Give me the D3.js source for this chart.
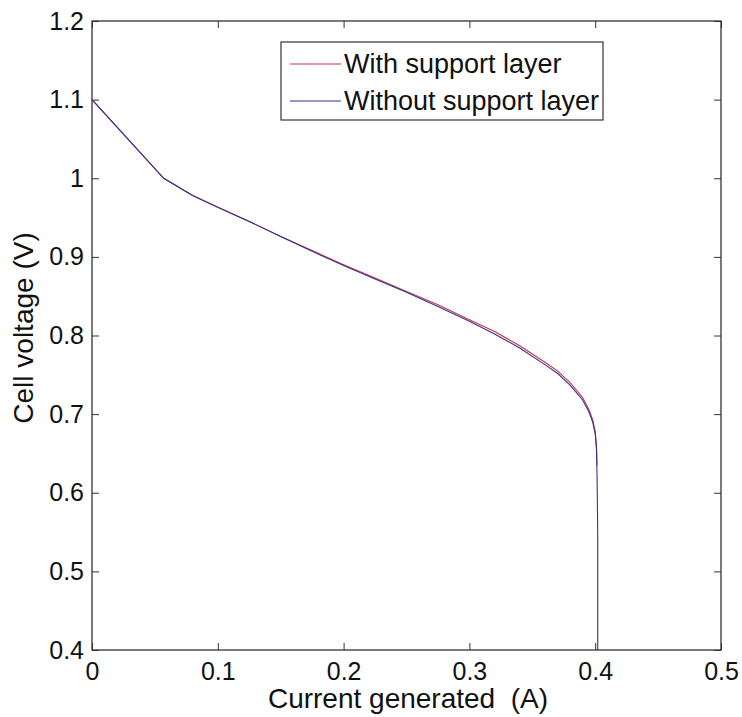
<!DOCTYPE html>
<html>
<head>
<meta charset="utf-8">
<script src="https://cdn.jsdelivr.net/npm/d3@7"></script>
<style>
  html, body { margin: 0; padding: 0; background: #fff; }
  svg { display: block; }
  text { font-family: "Liberation Sans", Arial, sans-serif; fill: #111; }
</style>
</head>
<body>
<script>
// Polarization curve: current (A) vs cell voltage (V)
const currentWithout = [0, 0.057, 0.08, 0.1, 0.125, 0.15, 0.175, 0.2, 0.225, 0.25, 0.275, 0.3, 0.32, 0.34, 0.36, 0.37, 0.38, 0.39, 0.395, 0.398, 0.4, 0.401, 0.4015, 0.402, 0.402];
const voltageWithout = [1.1, 1.0, 0.978, 0.963, 0.945, 0.926, 0.907, 0.889, 0.872, 0.855, 0.837, 0.818, 0.802, 0.784, 0.763, 0.752, 0.737, 0.718, 0.703, 0.69, 0.675, 0.655, 0.62, 0.55, 0.4];

const currentWith = [0, 0.057, 0.08, 0.1, 0.125, 0.15, 0.175, 0.2, 0.225, 0.25, 0.275, 0.3, 0.32, 0.34, 0.36, 0.37, 0.38, 0.39, 0.395, 0.398, 0.4, 0.401, 0.4015];
const voltageWith = [1.1, 1.0, 0.978, 0.963, 0.945, 0.926, 0.908, 0.890, 0.873, 0.856, 0.839, 0.820, 0.805, 0.787, 0.766, 0.755, 0.740, 0.721, 0.706, 0.693, 0.678, 0.66, 0.635];

const xTicks = [0, 0.1, 0.2, 0.3, 0.4, 0.5];
const yTicks = [0.4, 0.5, 0.6, 0.7, 0.8, 0.9, 1.0, 1.1, 1.2];
const seriesNames = ["With support layer", "Without support layer"];
const seriesColors = ["#cc3344", "#33338f"];

const W = 742, H = 717;
const plot = { left: 92, top: 21, right: 721, bottom: 650 };

const x = d3.scaleLinear().domain([0, 0.5]).range([plot.left, plot.right]);
const y = d3.scaleLinear().domain([0.4, 1.2]).range([plot.bottom, plot.top]);

const svg = d3.select("body").append("svg").attr("width", W).attr("height", H);

const fmt = d => String(+d.toFixed(1));
const tickLen = 7;
const axisColor = "#333";
const fontSize = 25;

// axes: ticks point inward and are mirrored on the top and right edges
const bottomAxis = d3.axisBottom(x).tickValues(xTicks).tickSize(-tickLen).tickPadding(12).tickFormat(fmt);
const leftAxis = d3.axisLeft(y).tickValues(yTicks).tickSize(-tickLen).tickPadding(8).tickFormat(fmt);
const topAxis = d3.axisTop(x).tickValues(xTicks).tickSize(-tickLen).tickFormat("");
const rightAxis = d3.axisRight(y).tickValues(yTicks).tickSize(-tickLen).tickFormat("");

function style(g) {
  g.select(".domain").remove();
  g.selectAll(".tick line").attr("stroke", axisColor).attr("stroke-width", 1);
  g.selectAll(".tick text").attr("font-size", fontSize).attr("fill", "#111")
    .style("font-family", '"Liberation Sans", Arial, sans-serif');
}

svg.append("g").attr("transform", `translate(0,${plot.bottom})`).call(bottomAxis).call(style);
svg.append("g").attr("transform", `translate(${plot.left},0)`).call(leftAxis).call(style);
svg.append("g").attr("transform", `translate(0,${plot.top})`).call(topAxis).call(style);
svg.append("g").attr("transform", `translate(${plot.right},0)`).call(rightAxis).call(style);

// box
svg.append("rect")
  .attr("x", plot.left).attr("y", plot.top)
  .attr("width", plot.right - plot.left).attr("height", plot.bottom - plot.top)
  .attr("fill", "none").attr("stroke", axisColor).attr("stroke-width", 1.3);

const line = d3.line().x(d => x(d[0])).y(d => y(d[1]));

const seriesData = [
  d3.zip(currentWith, voltageWith),
  d3.zip(currentWithout, voltageWithout)
];

seriesData.forEach((pts, i) => {
  svg.append("path").datum(pts)
    .attr("d", line)
    .attr("fill", "none")
    .attr("stroke", seriesColors[i])
    .attr("stroke-width", 1.1);
});

// legend
const lg = svg.append("g");
lg.append("rect").attr("x", 281).attr("y", 42).attr("width", 322).attr("height", 78)
  .attr("fill", "#fff").attr("stroke", axisColor).attr("stroke-width", 1.2);
seriesNames.forEach((name, i) => {
  const ly = 64 + i * 37;
  lg.append("line").attr("x1", 290).attr("x2", 341).attr("y1", ly).attr("y2", ly)
    .attr("stroke", seriesColors[i]).attr("stroke-width", 1.1);
  lg.append("text").attr("x", 344).attr("y", ly + 9).attr("font-size", 27).text(name);
});

// axis titles
svg.append("text").attr("x", 408).attr("y", 708)
  .attr("text-anchor", "middle").attr("font-size", 28)
  .style("white-space", "pre").text("Current generated  (A)");
svg.append("text")
  .attr("transform", `translate(33,328) rotate(-90)`)
  .attr("text-anchor", "middle").attr("font-size", 28).text("Cell voltage (V)");
</script>
</body>
</html>
